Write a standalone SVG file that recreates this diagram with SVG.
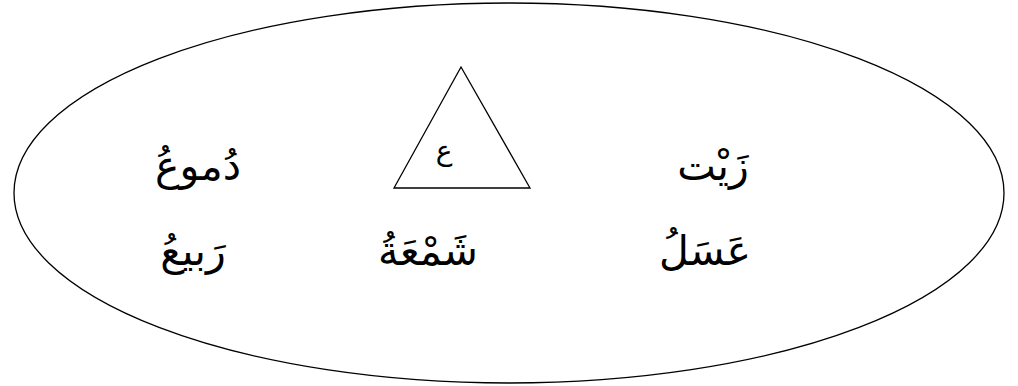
<svg xmlns="http://www.w3.org/2000/svg" width="1018" height="386" viewBox="0 0 1018 386">
<style>
.shape{fill:none;stroke:#000;stroke-width:1.3}
.w{font-family:"Liberation Serif","DejaVu Sans",serif;font-size:41px;fill:#000;text-anchor:middle;direction:rtl}
.s{font-family:"Liberation Serif","DejaVu Sans",serif;font-size:28px;fill:#000;text-anchor:middle;direction:rtl}
</style>
<rect width="1018" height="386" fill="#fff"/>
<g id="ellipse"><ellipse class="shape" cx="509" cy="193" rx="495" ry="190"/></g>
<g id="triangle"><polygon class="shape" points="461,67 394,188 530,188"/><text class="s" x="444" y="160">ع</text></g>
<g id="w1"><text class="w" x="198" y="180">دُموعُ</text></g>
<g id="w2"><text class="w" x="713" y="180">زَيْت</text></g>
<g id="w3"><text class="w" x="193" y="265">رَبيعُ</text></g>
<g id="w4"><text class="w" x="428" y="265">شَمْعَةُ</text></g>
<g id="w5"><text class="w" x="705" y="265">عَسَلُ</text></g>
<g id="connectors"></g>
</svg>
